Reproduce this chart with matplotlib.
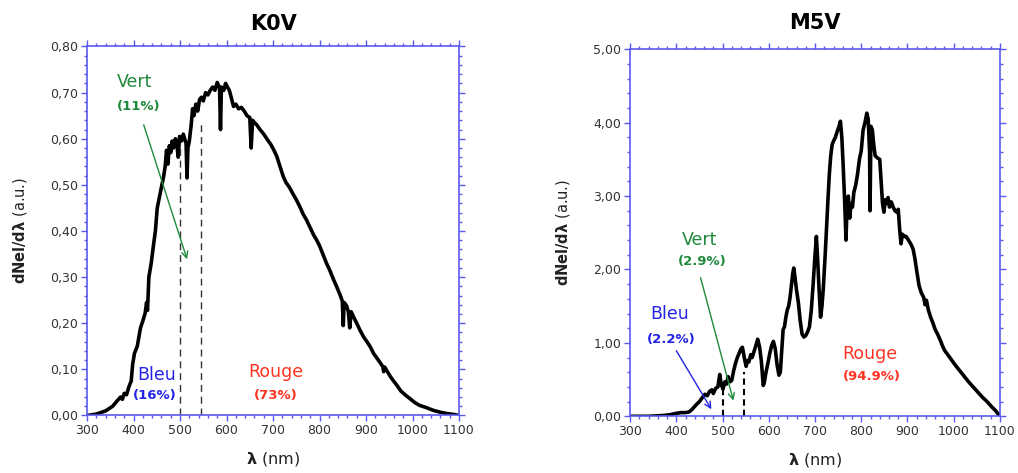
import matplotlib
matplotlib.use("Agg")
import matplotlib.pyplot as plt
from matplotlib.ticker import MultipleLocator, FuncFormatter

# ---------------- data ----------------
k0v_wl = [300, 320, 340, 355, 365, 372, 376, 380, 385, 390, 395, 398, 402, 408, 415, 420,
          425, 428, 430, 433, 438, 443, 447, 451, 455, 460, 465, 468, 471, 474, 477, 480,
          483, 486, 490, 493, 496, 499, 503, 507, 510, 513, 515, 517, 520, 524, 527, 530,
          534, 538, 542, 546, 550, 555, 560, 565, 570, 575, 580, 585, 587, 589, 594, 598,
          602, 606, 610, 615, 620, 626, 632, 638, 644, 650, 653, 656, 660, 665, 672, 680,
          688, 695, 702, 708, 715, 722, 728, 735, 742, 750, 758, 765, 772, 780, 787, 794,
          800, 808, 815, 822, 830, 837, 844, 849, 851, 853, 858, 862, 865, 868, 875, 880,
          887, 895, 902, 909, 916, 923, 930, 936, 938, 940, 946, 952, 959, 966, 975, 985,
          994, 1005, 1015, 1030, 1045, 1060, 1075, 1090, 1100]
k0v_flux = [0.000, 0.003, 0.010, 0.020, 0.032, 0.040, 0.035, 0.048, 0.045, 0.062, 0.075, 0.110,
            0.135, 0.150, 0.190, 0.205, 0.222, 0.245, 0.228, 0.300, 0.330, 0.370, 0.400, 0.450,
            0.470, 0.495, 0.520, 0.540, 0.575, 0.545, 0.585, 0.570, 0.595, 0.580, 0.600, 0.590,
            0.560, 0.605, 0.595, 0.610, 0.600, 0.590, 0.515, 0.580, 0.595, 0.630, 0.665, 0.650,
            0.675, 0.660, 0.685, 0.690, 0.682, 0.700, 0.695, 0.705, 0.712, 0.705, 0.722, 0.710,
            0.620, 0.712, 0.705, 0.720, 0.712, 0.705, 0.690, 0.670, 0.675, 0.665, 0.668, 0.660,
            0.650, 0.646, 0.580, 0.640, 0.635, 0.630, 0.620, 0.610, 0.598, 0.588, 0.575, 0.562,
            0.540, 0.518, 0.505, 0.495, 0.482, 0.468, 0.452, 0.436, 0.424, 0.407, 0.392, 0.380,
            0.368, 0.348, 0.330, 0.315, 0.295, 0.279, 0.262, 0.248, 0.195, 0.245, 0.238, 0.225,
            0.190, 0.225, 0.210, 0.200, 0.185, 0.170, 0.160, 0.149, 0.135, 0.125, 0.115, 0.106,
            0.095, 0.105, 0.095, 0.085, 0.075, 0.066, 0.053, 0.044, 0.037, 0.028, 0.022, 0.017,
            0.011, 0.007, 0.004, 0.002, 0.000]

m5v_wl = [300, 340, 370, 385, 400, 410, 420, 428, 435, 442, 450, 457, 462, 467, 472, 477,
          480, 485, 490, 494, 497, 501, 505, 509, 512, 516, 520, 524, 528, 532, 536, 540,
          543, 547, 551, 554, 557, 561, 564, 568, 572, 576, 580, 584, 588, 590, 594, 598,
          602, 606, 610, 614, 618, 622, 625, 628, 631, 634, 637, 640, 643, 646, 649, 652,
          654, 657, 660, 664, 668, 672, 676, 680, 684, 688, 692, 696, 699, 703, 706, 709,
          712, 715, 718, 722, 725, 728, 731, 734, 737, 740, 744, 748, 752, 755, 758, 761,
          764, 767, 769, 772, 775, 778, 781, 784, 788, 792, 796, 800, 804, 808, 812, 815,
          818, 819, 821, 824, 827, 830, 835, 840, 843, 846, 849, 852, 855, 858, 861, 865,
          869, 873, 877, 880, 883, 886, 889, 893, 897, 902, 907, 912, 916, 920, 925, 930,
          935, 938, 941, 945, 950, 955, 960, 965, 970, 975, 980, 987, 995, 1003, 1012, 1022,
          1032, 1042, 1052, 1062, 1072, 1082, 1090, 1100]
m5v_flux = [0.00, 0.00, 0.01, 0.02, 0.04, 0.05, 0.05, 0.06, 0.10, 0.15, 0.20, 0.26, 0.30, 0.28,
            0.34, 0.36, 0.31, 0.38, 0.40, 0.57, 0.44, 0.37, 0.47, 0.44, 0.54, 0.47, 0.49, 0.62,
            0.72, 0.80, 0.86, 0.92, 0.94, 0.80, 0.68, 0.76, 0.74, 0.84, 0.80, 0.88, 0.96, 1.05,
            0.95, 0.75, 0.42, 0.45, 0.60, 0.72, 0.85, 0.96, 1.02, 0.92, 0.70, 0.56, 0.60, 0.90,
            1.18, 1.22, 1.35, 1.45, 1.50, 1.62, 1.78, 1.95, 2.02, 1.88, 1.72, 1.55, 1.30, 1.12,
            1.08, 1.10, 1.15, 1.22, 1.45, 1.80, 2.10, 2.45, 2.10, 1.70, 1.35, 1.50, 1.75, 2.20,
            2.58, 2.95, 3.30, 3.55, 3.70, 3.75, 3.80, 3.88, 3.95, 4.02, 3.80, 3.40, 2.95, 2.40,
            2.80, 3.00, 2.70, 2.90, 2.85, 3.05, 3.15, 3.30, 3.50, 3.62, 3.90, 4.00, 4.13, 4.05,
            3.60, 2.80, 3.95, 3.90, 3.70, 3.55, 3.52, 3.50, 3.20, 2.90, 2.78, 2.95, 2.90, 2.98,
            2.85, 2.92, 2.85, 2.80, 2.78, 2.82, 2.55, 2.35, 2.48, 2.45, 2.45, 2.40, 2.35, 2.28,
            2.15, 1.98, 1.78, 1.68, 1.62, 1.52, 1.58, 1.45, 1.35, 1.27, 1.18, 1.12, 1.05, 0.97,
            0.90, 0.84, 0.77, 0.70, 0.63, 0.55, 0.47, 0.40, 0.33, 0.26, 0.20, 0.13, 0.08, 0.00]

titles = ["K0V", "M5V"]
band_edges = [500, 546]
k0v_edge_tops = [0.58, 0.635]
m5v_edge_tops = [0.38, 0.61]
k0v_labels = {"Bleu": "(16%)", "Vert": "(11%)", "Rouge": "(73%)"}
m5v_labels = {"Bleu": "(2.2%)", "Vert": "(2.9%)", "Rouge": "(94.9%)"}

# ---------------- style ----------------
SPINE = "#5a5af2"
GREEN = "#1f8a3c"
BLUE = "#2323e6"
RED = "#ff3322"
plt.rcParams["font.family"] = ["DejaVu Sans"]

fig = plt.figure(figsize=(10.18, 4.73), dpi=100)
ax1 = fig.add_axes([0.0855, 0.1216, 0.3654, 0.7801])
ax2 = fig.add_axes([0.6189, 0.1199, 0.3634, 0.7759])


def style_axes(ax, ymax, ymaj, ymin):
    ax.set_xlim(300, 1100)
    ax.set_ylim(0, ymax)
    ax.xaxis.set_major_locator(MultipleLocator(100))
    ax.xaxis.set_minor_locator(MultipleLocator(20))
    ax.yaxis.set_major_locator(MultipleLocator(ymaj))
    ax.yaxis.set_minor_locator(MultipleLocator(ymin))
    ax.yaxis.set_major_formatter(FuncFormatter(lambda v, p: f"{v:.2f}".replace(".", ",")))
    for s in ax.spines.values():
        s.set_color(SPINE)
        s.set_linewidth(1.2)
    ax.tick_params(which="both", direction="out", color=SPINE, top=True, right=True,
                   labelsize=9, labelcolor="#333333", width=1.0)
    ax.tick_params(which="major", length=4.3, pad=2)
    ax.tick_params(which="minor", length=2.0)
    ax.set_xlabel("$\\mathbf{\\lambda}$ (nm)", fontsize=11.5, color="#222222", labelpad=9)
    ax.set_ylabel("$\\mathbf{dNel/d\\lambda}$ (a.u.)", fontsize=10.5, color="#222222",
                  labelpad=15)


# ----- K0V -----
style_axes(ax1, 0.8, 0.1, 0.02)
ax1.plot(k0v_wl, k0v_flux, color="black", lw=2.6)
ax1.vlines(band_edges, 0, k0v_edge_tops, colors="#333333", linestyles=(0, (5, 3.5)), lw=1.0)
ax1.set_title(titles[0], fontsize=15, fontweight="bold", pad=12)
ax1.text(403, 0.722, "Vert", color=GREEN, fontsize=12.5, ha="center", va="center")
ax1.text(412, 0.669, k0v_labels["Vert"], color=GREEN, fontsize=9.5, fontweight="bold",
         ha="center", va="center")
ax1.annotate("", xy=(517, 0.333), xytext=(420, 0.636),
             arrowprops=dict(arrowstyle="->", color=GREEN, lw=1.0, mutation_scale=11))
ax1.text(450, 0.088, "Bleu", color=BLUE, fontsize=12.5, ha="center", va="center")
ax1.text(446, 0.043, k0v_labels["Bleu"], color=BLUE, fontsize=9.5, fontweight="bold",
         ha="center", va="center")
ax1.text(706, 0.095, "Rouge", color=RED, fontsize=12.5, ha="center", va="center")
ax1.text(706, 0.044, k0v_labels["Rouge"], color=RED, fontsize=9.5, fontweight="bold",
         ha="center", va="center")

# ----- M5V -----
style_axes(ax2, 5.0, 1.0, 0.2)
ax2.plot(m5v_wl, m5v_flux, color="black", lw=2.6)
ax2.vlines(band_edges, 0, m5v_edge_tops, colors="black", linestyles=(0, (3, 2)), lw=1.5)
ax2.set_title(titles[1], fontsize=15, fontweight="bold", pad=14.5)
ax2.text(451, 2.40, "Vert", color=GREEN, fontsize=12.5, ha="center", va="center")
ax2.text(457, 2.11, m5v_labels["Vert"], color=GREEN, fontsize=9.5, fontweight="bold",
         ha="center", va="center")
ax2.annotate("", xy=(525, 0.177), xytext=(451, 1.925),
             arrowprops=dict(arrowstyle="->", color=GREEN, lw=1.0, mutation_scale=11))
ax2.text(386, 1.40, "Bleu", color=BLUE, fontsize=12.5, ha="center", va="center")
ax2.text(390, 1.04, m5v_labels["Bleu"], color=BLUE, fontsize=9.5, fontweight="bold",
         ha="center", va="center")
ax2.annotate("", xy=(479, 0.063), xytext=(397, 0.926),
             arrowprops=dict(arrowstyle="->", color=BLUE, lw=1.0, mutation_scale=11))
ax2.text(819, 0.845, "Rouge", color=RED, fontsize=12.5, ha="center", va="center")
ax2.text(823, 0.54, m5v_labels["Rouge"], color=RED, fontsize=9.5, fontweight="bold",
         ha="center", va="center")

fig.savefig("out.png", dpi=100)
